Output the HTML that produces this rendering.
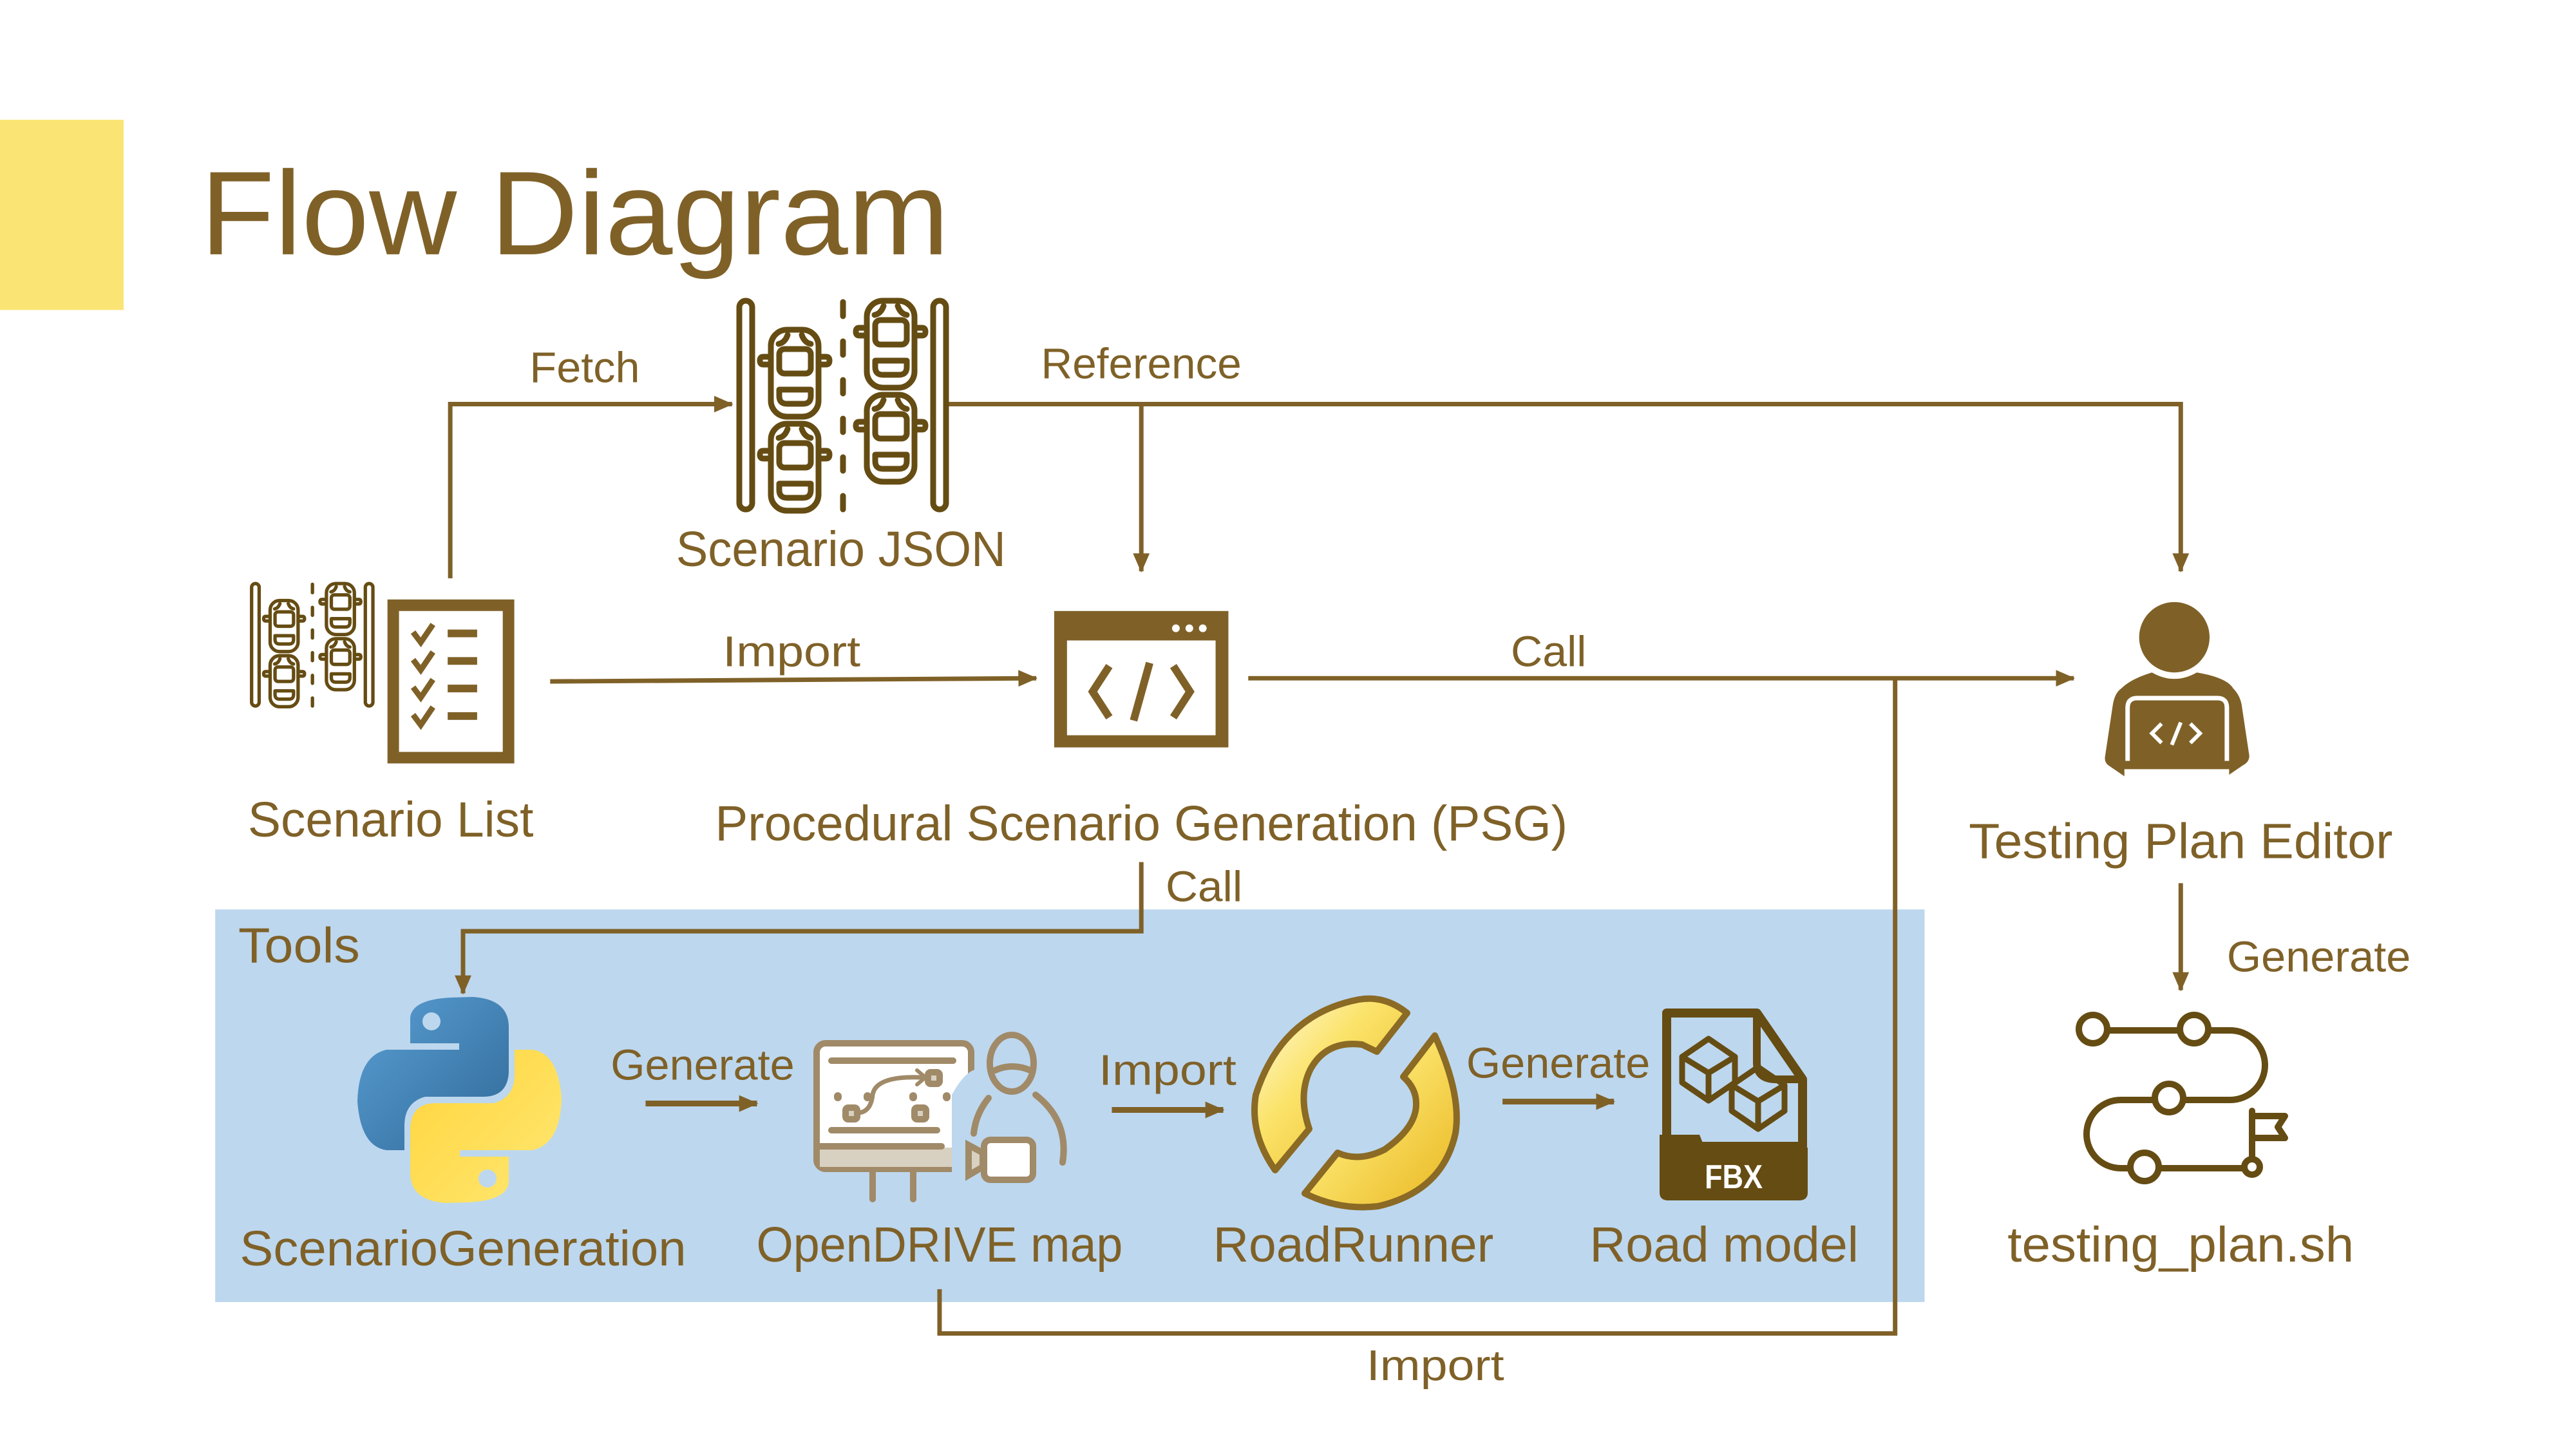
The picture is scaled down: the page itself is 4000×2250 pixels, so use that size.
<!DOCTYPE html>
<html><head><meta charset="utf-8">
<style>
html,body{margin:0;padding:0;background:#fff;}
svg{display:block;}
text{font-family:"Liberation Sans",sans-serif;fill:#7f6128;}
</style></head>
<body>
<svg width="4000" height="2250" viewBox="0 0 4000 2250" xmlns="http://www.w3.org/2000/svg">
<defs>
<marker id="ah" markerUnits="userSpaceOnUse" markerWidth="30" markerHeight="30" viewBox="0 0 30 30" refX="28" refY="15" orient="auto">
<path d="M0,2 L30,15 L0,28 Z" fill="#7f6128"/>
</marker>
<linearGradient id="pb" x1="0" y1="0" x2="1" y2="1"><stop offset="0" stop-color="#5a9fd4"/><stop offset="1" stop-color="#306998"/></linearGradient>
<linearGradient id="py" x1="0" y1="0" x2="1" y2="1"><stop offset="0" stop-color="#ffe873"/><stop offset="1" stop-color="#ffd43b"/></linearGradient>
<linearGradient id="rr" x1="0" y1="0" x2="1" y2="1"><stop offset="0" stop-color="#fffbe0"/><stop offset="0.4" stop-color="#fbe36a"/><stop offset="1" stop-color="#e9b620"/></linearGradient>
<g id="car" fill="none" stroke="#654c13" stroke-width="9" stroke-linecap="round" stroke-linejoin="round">
<rect x="0" y="0" width="74" height="135" rx="25"/>
<rect x="13" y="30" width="49" height="38" rx="8"/>
<path d="M13,93 H62 V103 Q62,115 50,115 H25 Q13,115 13,103 Z"/>
<path d="M0,42 H-12 Q-17,42 -17,48 Q-17,54 -12,54 H0 M74,42 H86 Q91,42 91,48 Q91,54 86,54 H74"/>
<path d="M12,22 Q22,20 26,8 M62,22 Q52,20 48,8"/>
</g>
<g id="road">
<rect x="15" y="7" width="20" height="324" rx="10" fill="none" stroke="#654c13" stroke-width="9"/>
<rect x="316" y="7" width="20" height="324" rx="10" fill="none" stroke="#654c13" stroke-width="9"/>
<path d="M176,9 V31 M176,70 V91 M176,130 V151 M176,190 V211 M176,250 V271 M176,310 V331" stroke="#654c13" stroke-width="9" stroke-linecap="round"/>
<use href="#car" x="64" y="52"/>
<use href="#car" x="64" y="198"/>
<use href="#car" x="213" y="7"/>
<use href="#car" x="213" y="153"/>
</g>
</defs>

<g transform="scale(0.9945)">
<rect x="0" y="187" width="193" height="297" fill="#fae474"/>
<text x="313" y="397" font-size="186" textLength="1169" lengthAdjust="spacingAndGlyphs">Flow Diagram</text>

<g fill="none" stroke="#7f6128" stroke-width="7">
<path d="M703,903 V631 H1143" marker-end="url(#ah)"/>
<path d="M1479,631 H3405 V892" marker-end="url(#ah)"/>
<path d="M1782,631 V892" marker-end="url(#ah)"/>
<path d="M859,1064 L1618,1059" marker-end="url(#ah)"/>
<path d="M1949,1059 H3238" marker-end="url(#ah)"/>
<path d="M3405,1379 V1546" marker-end="url(#ah)"/>
</g>

<rect x="336" y="1420" width="2669" height="613" fill="#bdd7ee"/>
<g fill="none" stroke="#7f6128" stroke-width="7">
<path d="M1782,1346 V1454 H723 V1551" marker-end="url(#ah)"/>
<path d="M2959,1059 V2082 H1467 V2013"/>
</g>
<g fill="none" stroke="#7f6128" stroke-width="9">
<path d="M1008,1723 H1182" marker-end="url(#ah)"/>
<path d="M1736,1733 H1910" marker-end="url(#ah)"/>
<path d="M2346,1720 H2520" marker-end="url(#ah)"/>
</g>

<use href="#road" transform="translate(384,907) scale(0.59)"/>
<rect x="614" y="945" width="180" height="238" fill="none" stroke="#7f6128" stroke-width="18"/>
<g fill="none" stroke="#7f6128" stroke-width="9">
<path d="M645,987 L657,1003 L676,975 M645,1030 L657,1046 L676,1018 M645,1073 L657,1089 L676,1061 M645,1116 L657,1132 L676,1104"/>
</g>
<g fill="#7f6128">
<rect x="699" y="983" width="46" height="12"/><rect x="699" y="1026" width="46" height="12"/><rect x="699" y="1069" width="46" height="12"/><rect x="699" y="1112" width="46" height="12"/>
</g>

<rect x="1646" y="954" width="272" height="213" fill="#7f6128"/>
<rect x="1666" y="1000" width="232" height="148" fill="#fff"/>
<circle cx="1836" cy="981" r="6" fill="#fff"/><circle cx="1857" cy="981" r="6" fill="#fff"/><circle cx="1878" cy="981" r="6" fill="#fff"/>
<g fill="none" stroke="#7f6128" stroke-width="12">
<path d="M1732,1040 L1706,1080 L1732,1120 M1832,1040 L1858,1080 L1832,1120 M1795,1035 L1770,1125"/>
</g>

<circle cx="3395" cy="995" r="55" fill="#7f6128"/>
<g transform="translate(7,0)">
<path d="M3353,1050 Q3388,1070 3423,1050 Q3470,1058 3480,1075 Q3490,1085 3493,1100 L3505,1180 Q3505,1190 3495,1195 L3470,1212 L3470,1190 L3310,1190 L3310,1212 L3285,1195 Q3278,1190 3280,1180 L3292,1100 Q3295,1082 3305,1075 Q3320,1060 3353,1050 Z" fill="#7f6128"/>
<path d="M3315,1215 V1105 Q3315,1090 3330,1090 H3455 Q3470,1090 3470,1105 V1215" fill="none" stroke="#fff" stroke-width="7"/>
<rect x="3290" y="1188" width="198" height="13" rx="6" fill="#7f6128"/>
<path d="M3368,1130 L3353,1145 L3368,1160 M3413,1130 L3428,1145 L3413,1160 M3398,1128 L3384,1163" fill="none" stroke="#fff" stroke-width="6"/>
</g>
</g>

<!-- unscaled icons (true coords) -->
<use href="#road" transform="translate(1133,460)"/>

<g fill="none" stroke="#654c13" stroke-width="10">
<path d="M3272,1600 H3385 M3429,1600 H3463 A54,54 0 0 1 3463,1708 H3390 M3346,1708 H3293 A53,53 0 0 0 3293,1814 H3308 M3352,1814 H3485"/>
<circle cx="3250" cy="1598" r="22"/><circle cx="3407" cy="1598" r="22"/><circle cx="3368" cy="1705" r="22"/><circle cx="3330" cy="1812" r="22"/><circle cx="3497" cy="1812" r="12"/>
<path d="M3497,1725 V1800 M3497,1733 H3548 L3537,1750 L3548,1767 H3497" stroke-linejoin="round" stroke-linecap="round"/>
</g>

<g>
<path d="M637,1580 Q640,1552 700,1549 L735,1548 Q790,1552 790,1595 L790,1665 Q788,1703 750,1703 L660,1703 Q628,1712 628,1748 L628,1786 L600,1786 Q560,1780 555,1710 Q557,1640 600,1630 L713,1630 L713,1620 L637,1620 Z" fill="url(#pb)"/>
<circle cx="670" cy="1586" r="14" fill="#bdd7ee"/>
<g transform="rotate(180 713.5 1708)">
<path d="M637,1580 Q640,1552 700,1549 L735,1548 Q790,1552 790,1595 L790,1665 Q788,1703 750,1703 L660,1703 Q628,1712 628,1748 L628,1786 L600,1786 Q560,1780 555,1710 Q557,1640 600,1630 L713,1630 L713,1620 L637,1620 Z" fill="url(#py)"/>
<circle cx="670" cy="1586" r="14" fill="#bdd7ee"/>
</g>
</g>

<!-- OpenDRIVE icon -->
<g stroke="#a08a68" fill="none" stroke-width="10" stroke-linecap="round">
<rect x="1268" y="1620" width="240" height="195" rx="14" fill="#fff"/>
<rect x="1273" y="1782" width="232" height="30" fill="#d8d0c0" stroke="none"/>
<path d="M1270,1780 H1462 M1355,1818 V1862 M1418,1818 V1862"/>
<path d="M1291,1647 H1480 M1291,1755 H1455"/>
<rect x="1441" y="1665" width="18" height="18" rx="4" fill="#d8d0c0"/>
<rect x="1313" y="1720" width="18" height="18" rx="4" fill="#d8d0c0"/>
<rect x="1420" y="1720" width="18" height="18" rx="4" fill="#d8d0c0"/>
<path d="M1301,1702 V1704 M1347,1702 V1704 M1418,1702 V1704 M1470,1702 V1704" stroke-width="12"/>
<path d="M1331,1728 Q1352,1728 1355,1700 Q1360,1670 1432,1673" stroke-width="7"/>
<path d="M1424,1662 L1437,1673 L1424,1684" stroke-width="6"/>
<path d="M1478,1700 Q1500,1660 1520,1660 L1520,1840 L1478,1840 Z" fill="#bdd7ee" stroke="none"/>
<ellipse cx="1571" cy="1651" rx="34" ry="44" fill="#bdd7ee"/>
<path d="M1545,1662 Q1571,1650 1600,1662"/>
<path d="M1535,1705 Q1515,1730 1512,1760 M1608,1700 Q1660,1740 1650,1805"/>
<rect x="1528" y="1770" width="76" height="62" rx="10" fill="#fff"/>
<path d="M1504,1778 V1825 L1526,1812 V1790 Z" fill="#d8d0c0"/>
</g>

<!-- RoadRunner -->
<g stroke="#8a6a24" stroke-width="10" fill="url(#rr)" stroke-linejoin="round">
<path d="M2185,1573 Q2150,1545 2110,1552 Q1990,1575 1950,1700 Q1940,1760 1980,1817 L2033,1753 Q2015,1700 2035,1660 Q2060,1615 2115,1622 L2138,1633 Z"/>
<path d="M2228,1608 Q2270,1700 2260,1760 Q2240,1850 2140,1873 Q2080,1880 2026,1853 L2077,1790 Q2110,1805 2150,1785 Q2200,1750 2199,1713 Q2199,1690 2179,1672 Z"/>
</g>

<!-- FBX -->
<path d="M2588,1573 H2728 L2799,1676 V1780 H2588 Z" fill="#bdd7ee" stroke="#654c13" stroke-width="14" stroke-linejoin="round"/>
<path d="M2728,1573 L2728,1650 Q2728,1676 2758,1676 H2799" fill="none" stroke="#654c13" stroke-width="12"/>
<path d="M2577,1762 H2639 L2647,1782 H2807 V1852 Q2807,1864 2793,1864 H2591 Q2577,1864 2577,1852 Z" fill="#654c13"/>
<text x="2692" y="1845" font-size="52" font-weight="bold" text-anchor="middle" style="fill:#fff" textLength="90" lengthAdjust="spacingAndGlyphs">FBX</text>
<g fill="none" stroke="#654c13" stroke-width="9" stroke-linejoin="round">
<path d="M2653,1613 L2694,1641 L2694,1681 L2653,1709 L2612,1681 L2612,1641 Z M2612,1641 L2653,1666 L2694,1641 M2653,1666 V1709"/>
<path d="M2730,1657 L2771,1685 L2771,1725 L2730,1753 L2689,1725 L2689,1685 Z M2689,1685 L2730,1710 L2771,1685 M2730,1710 V1753"/>
</g>

<g transform="scale(0.9945)">
<g font-size="67">
<text x="913" y="597" text-anchor="middle" textLength="172" lengthAdjust="spacingAndGlyphs">Fetch</text>
<text x="1782" y="591" text-anchor="middle" textLength="313" lengthAdjust="spacingAndGlyphs">Reference</text>
<text x="1236" y="1040" text-anchor="middle" textLength="215" lengthAdjust="spacingAndGlyphs">Import</text>
<text x="2418" y="1040" text-anchor="middle" textLength="118" lengthAdjust="spacingAndGlyphs">Call</text>
<text x="1820" y="1407" textLength="120" lengthAdjust="spacingAndGlyphs">Call</text>
<text x="3477" y="1517" textLength="287" lengthAdjust="spacingAndGlyphs">Generate</text>
<text x="1097" y="1686" text-anchor="middle" textLength="287" lengthAdjust="spacingAndGlyphs">Generate</text>
<text x="1823" y="1694" text-anchor="middle" textLength="215" lengthAdjust="spacingAndGlyphs">Import</text>
<text x="2433" y="1683" text-anchor="middle" textLength="287" lengthAdjust="spacingAndGlyphs">Generate</text>
<text x="2241" y="2155" text-anchor="middle" textLength="215" lengthAdjust="spacingAndGlyphs">Import</text>
</g>
<g font-size="77">
<text x="1313" y="884" text-anchor="middle" textLength="515" lengthAdjust="spacingAndGlyphs">Scenario JSON</text>
<text x="610" y="1306" text-anchor="middle" textLength="446" lengthAdjust="spacingAndGlyphs">Scenario List</text>
<text x="1782" y="1312" text-anchor="middle" textLength="1331" lengthAdjust="spacingAndGlyphs">Procedural Scenario Generation (PSG)</text>
<text x="3405" y="1340" text-anchor="middle" textLength="662" lengthAdjust="spacingAndGlyphs">Testing Plan Editor</text>
<text x="3405" y="1970" text-anchor="middle" textLength="541" lengthAdjust="spacingAndGlyphs">testing_plan.sh</text>
<text x="372" y="1503" textLength="190" lengthAdjust="spacingAndGlyphs">Tools</text>
<text x="723" y="1976" text-anchor="middle" textLength="697" lengthAdjust="spacingAndGlyphs">ScenarioGeneration</text>
<text x="1467" y="1970" text-anchor="middle" textLength="572" lengthAdjust="spacingAndGlyphs">OpenDRIVE map</text>
<text x="2113" y="1970" text-anchor="middle" textLength="438" lengthAdjust="spacingAndGlyphs">RoadRunner</text>
<text x="2692" y="1970" text-anchor="middle" textLength="420" lengthAdjust="spacingAndGlyphs">Road model</text>
</g>
</g>
</svg>
</body></html>
